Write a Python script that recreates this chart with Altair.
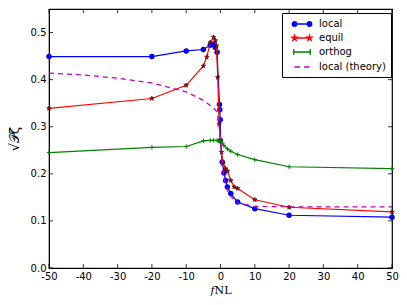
import math
import altair as alt
import pandas as pd

# ---- data ----
local_x = [-50, -20, -10, -5, -3, -2, -1.5, -1, -0.3, -0.2, -0.1, 0, 0.5, 1, 1.5, 2, 3, 5, 10, 20, 50]
local_y = [0.449, 0.449, 0.461, 0.464, 0.473, 0.475, 0.468, 0.458, 0.347, 0.336, 0.315, 0.270,
           0.225, 0.202, 0.186, 0.172, 0.158, 0.140, 0.126, 0.112, 0.108]

equil_x = [-50, -20, -10, -5, -4, -3, -2, -1.5, -1.2, -0.8, -0.4, 0, 0.3, 0.7, 1.5, 2, 3, 4, 5, 10, 20, 50]
equil_y = [0.339, 0.360, 0.388, 0.429, 0.448, 0.479, 0.490, 0.483, 0.472, 0.405, 0.306, 0.270,
           0.246, 0.222, 0.211, 0.206, 0.186, 0.172, 0.169, 0.145, 0.129, 0.119]

orthog_x = [-50, -20, -10, -5, -3, -2, -1, -0.5, 0, 0.5, 1, 2, 3, 5, 10, 20, 50]
orthog_y = [0.245, 0.256, 0.258, 0.270, 0.271, 0.271, 0.271, 0.270, 0.270, 0.265, 0.260,
            0.253, 0.248, 0.241, 0.230, 0.215, 0.211]

theory_x = [-50, -40, -30, -20, -10, -5, -2, -1, -0.5, 0, 0.5, 1, 2, 3, 5, 10, 20, 30, 40, 50]
theory_y = [0.414, 0.410, 0.403, 0.393, 0.374, 0.356, 0.340, 0.331, 0.310, 0.270, 0.215, 0.190,
            0.165, 0.152, 0.138, 0.131, 0.130, 0.130, 0.130, 0.130]

series_names = ["local", "equil", "orthog", "local (theory)"]
series_colors = ["#0000ff", "#ff0000", "#008000", "#bf00bf"]

x_ticks = [-50, -40, -30, -20, -10, 0, 10, 20, 30, 40, 50]
y_ticks = [0.0, 0.1, 0.2, 0.3, 0.4, 0.5]

W, H = 343, 259
XD = [-50, 50]
YD = [0, 0.55]

xs = alt.Scale(domain=XD, nice=False, zero=False)
ys = alt.Scale(domain=YD, nice=False, zero=False)


def df(xv, yv):
    return pd.DataFrame({"x": xv, "y": yv})


def star_path(cx, cy, r):
    pts = []
    for i in range(10):
        rr = r if i % 2 == 0 else r * 0.4
        a = -math.pi / 2 + i * math.pi / 5
        pts.append((cx + rr * math.cos(a), cy + rr * math.sin(a)))
    return "M" + "L".join(f"{px:.3f},{py:.3f}" for px, py in pts) + "Z"


def circ(cx, r):
    return f"M{cx - r:.3f},0A{r},{r} 0 1,0 {cx + r:.3f},0A{r},{r} 0 1,0 {cx - r:.3f},0Z"


STAR = star_path(0, 0, 1)
PLUS = "M0,-1L0,1M-1,0L1,0"

X = alt.X("x:Q", scale=xs, axis=alt.Axis(values=x_ticks, title="𝑓NL", grid=False,
                                         labelExpr="'' + datum.value", labelOverlap=False,
                                         labelFlush=False,
                                         tickSize=0, labelPadding=3, titlePadding=3,
                                         titleFontWeight="normal",
                                         titleFontSize=11, titleFont="DejaVu Serif"))
Y = alt.Y("y:Q", scale=ys, axis=alt.Axis(values=y_ticks, title="√𝒫ζ", format=".1f", grid=False,
                                         labelOverlap=False, labelFlush=False,
                                         tickSize=0, labelPadding=3, titlePadding=9,
                                         titleFontWeight="normal", titleFontSize=13))

layers = []
sets = [(local_x, local_y), (equil_x, equil_y), (orthog_x, orthog_y), (theory_x, theory_y)]
for i, (xv, yv) in enumerate(sets):
    d = df(xv, yv)
    line_kwargs = dict(color=series_colors[i], strokeWidth=1.2, clip=True)
    if i == 3:
        line_kwargs["strokeDash"] = [5, 4]
    layers.append(alt.Chart(d).mark_line(**line_kwargs).encode(x=X, y=Y))
    if i == 0:
        layers.append(alt.Chart(d).mark_point(shape="circle", filled=True, size=30,
                                              color="#0000ff", opacity=1).encode(x=X, y=Y))
    elif i == 1:
        layers.append(alt.Chart(d).mark_point(shape=STAR, filled=True, size=22, fill="#cc0000",
                                              stroke="#400000", strokeWidth=0.7, opacity=1)
                      .encode(x=X, y=Y))
    elif i == 2:
        layers.append(alt.Chart(d).mark_point(shape=PLUS, filled=False, size=20, stroke="#008000",
                                              strokeWidth=1, opacity=1).encode(x=X, y=Y))

# inward ticks like the original frame
xt = pd.DataFrame({"x": x_ticks})
yt = pd.DataFrame({"y": y_ticks})
tick_style = dict(color="black", strokeWidth=0.8)
layers.append(alt.Chart(xt).mark_rule(**tick_style).encode(x=X, y=alt.value(H), y2=alt.value(H - 4)))
layers.append(alt.Chart(xt).mark_rule(**tick_style).encode(x=X, y=alt.value(0), y2=alt.value(4)))
layers.append(alt.Chart(yt).mark_rule(**tick_style).encode(y=Y, x=alt.value(0), x2=alt.value(4)))
layers.append(alt.Chart(yt).mark_rule(**tick_style).encode(y=Y, x=alt.value(W), x2=alt.value(W - 4)))

# legend layer (no visible data) with matplotlib-like symbols (unit = 5px)
leg_shapes = [
    "M0,0L3.6,0" + circ(0.3, 0.45) + circ(3.3, 0.45),
    "M0,0L3.6,0" + star_path(0.3, 0, 0.55) + star_path(3.3, 0, 0.55),
    "M0,0L3.6,0M0.15,-0.6L0.15,0.6M3.45,-0.6L3.45,0.6",
    "M0.3,0L1.4,0M2.2,0L3.3,0",
]
leg_df = pd.DataFrame({"series": series_names, "x": [0] * 4, "y": [0] * 4})
legend = alt.Legend(title=None, orient="none", legendX=233, legendY=4, symbolSize=100,
                    symbolStrokeWidth=1.3, labelFontSize=10, labelFont="DejaVu Sans",
                    strokeColor="black", fillColor="white", padding=5, rowPadding=3,
                    labelOffset=20, symbolOffset=0, cornerRadius=0)
layers.append(
    alt.Chart(leg_df).mark_point(filled=True, opacity=1).encode(
        x=X, y=Y,
        shape=alt.Shape("series:N", scale=alt.Scale(domain=series_names, range=leg_shapes), legend=legend),
        fill=alt.Fill("series:N", scale=alt.Scale(domain=series_names, range=series_colors), legend=legend),
        stroke=alt.Stroke("series:N", scale=alt.Scale(domain=series_names, range=series_colors), legend=legend),
    ).transform_filter("datum.x > 1000")
)

chart = alt.layer(*layers).properties(
    width=W, height=H,
    autosize=alt.AutoSizeParams(type="none"),
    padding={"left": 41, "top": 1, "right": 7, "bottom": 30},
).configure_view(stroke="black", strokeWidth=1.2).configure_axis(
    labelFont="DejaVu Sans", labelFontSize=10, labelColor="black", titleColor="black",
    domainColor="black", titleFont="DejaVu Sans", labelOverlap=False
)

chart.save("out.html", embed_options={"renderer": "svg", "actions": False})
